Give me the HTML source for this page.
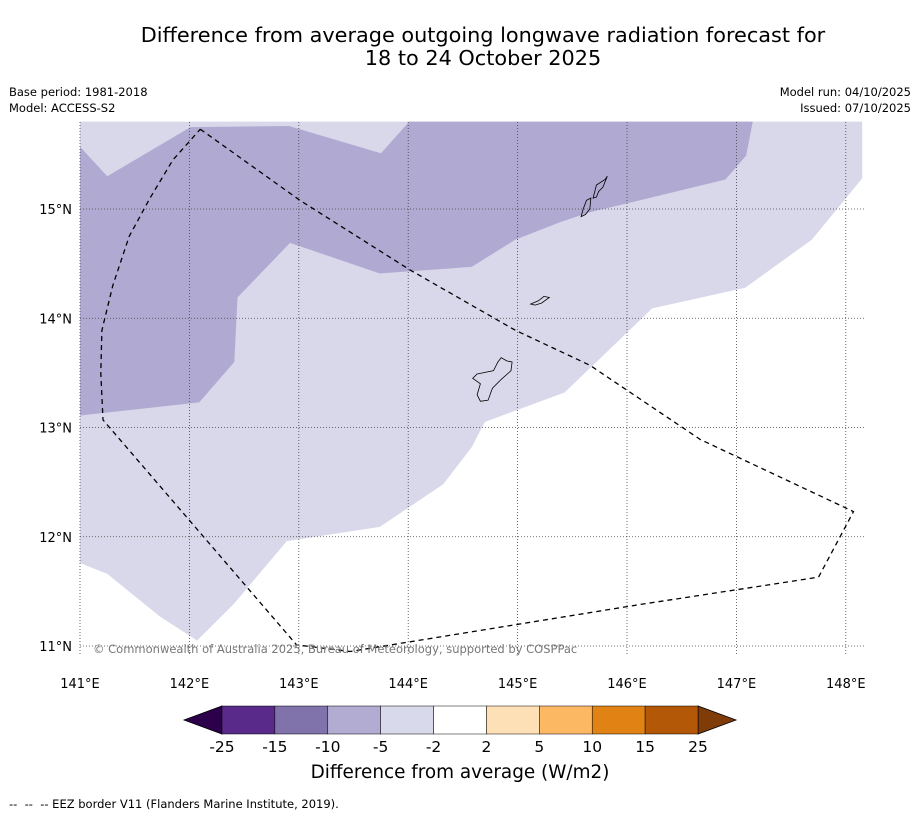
<!DOCTYPE html>
<html><head><meta charset="utf-8"><style>
body{margin:0;background:#fff;font-family:"DejaVu Sans","Liberation Sans",sans-serif}
svg{display:block}
text{font-family:"DejaVu Sans","Liberation Sans",sans-serif}
</style></head><body>
<svg id="chart" width="919" height="816" xmlns="http://www.w3.org/2000/svg">
<text x="483" y="42" text-anchor="middle" font-size="20.8">Difference from average outgoing longwave radiation forecast for</text>
<text x="483" y="65" text-anchor="middle" font-size="20.8">18 to 24 October 2025</text>
<text x="9" y="96" font-size="11.5">Base period: 1981-2018</text>
<text x="9" y="112" font-size="11.5">Model: ACCESS-S2</text>
<text x="911" y="96" font-size="11.5" text-anchor="end">Model run: 04/10/2025</text>
<text x="911" y="112" font-size="11.5" text-anchor="end">Issued: 07/10/2025</text>
<g id="map"></g>
<g id="cbar"></g>
<text x="460" y="778" text-anchor="middle" font-size="18.4">Difference from average (W/m2)</text>
<text x="9" y="808" font-size="11.5">-- &#160;-- &#160;-- EEZ border V11 (Flanders Marine Institute, 2019).</text>
</svg>
<script>
const lonTicks=[141,142,143,144,145,146,147,148];
const latTicks=[11,12,13,14,15];
const lightRegion=[[141,15.8],[148.15,15.8],[148.15,15.28],[147.69,14.72],[147.08,14.28],[146.23,14.09],[145.43,13.32],[144.7,13.05],[144.58,12.82],[144.32,12.48],[143.74,12.09],[142.89,11.96],[142.41,11.39],[142.07,11.05],[141.73,11.27],[141.25,11.66],[141,11.76]];
const darkRegion=[[141,15.57],[141.25,15.3],[142.01,15.75],[142.91,15.76],[143.75,15.51],[144.01,15.8],[147.15,15.8],[147.09,15.49],[146.9,15.27],[146.12,15.08],[145.66,14.97],[145.39,14.88],[144.98,14.72],[144.58,14.47],[143.74,14.41],[142.92,14.69],[142.44,14.19],[142.41,13.6],[142.09,13.23],[141,13.11]];
const eez=[[142.1,15.73],[143.01,15.08],[144.02,14.44],[144.98,13.89],[145.66,13.57],[146.67,12.89],[148.07,12.23],[147.75,11.63],[146.12,11.38],[143.47,10.95],[142.98,11.01],[141.21,13.07],[141.19,13.5],[141.2,13.89],[141.3,14.3],[141.45,14.75],[141.64,15.1],[141.85,15.45],[142.1,15.73]];
const guam=[[144.63,13.49],[144.78,13.52],[144.82,13.6],[144.85,13.64],[144.9,13.61],[144.95,13.6],[144.94,13.52],[144.85,13.44],[144.77,13.36],[144.73,13.25],[144.66,13.24],[144.63,13.3],[144.66,13.4],[144.59,13.45]];
const rota=[[145.12,14.13],[145.19,14.16],[145.24,14.2],[145.29,14.19],[145.22,14.14],[145.16,14.12]];
const tinian=[[145.58,14.93],[145.6,15.0],[145.63,15.08],[145.67,15.1],[145.66,15.0],[145.62,14.95]];
const saipan=[[145.69,15.1],[145.72,15.22],[145.8,15.27],[145.82,15.3],[145.78,15.2],[145.74,15.16],[145.72,15.11]];
const cbLabels=["-25","-15","-10","-5","-2","2","5","10","15","25"];
const cbColors=["#5a2a8a","#8073ac","#b2abd2","#d8daeb","#ffffff","#fee0b6","#fdb863","#e08214","#b35806"];
const NS="http://www.w3.org/2000/svg";
const X=lon=>80+(lon-141)*109.4;
const Y=lat=>209-(lat-15)*109.25;
function mk(tag,attrs,parent){const e=document.createElementNS(NS,tag);for(const k in attrs)e.setAttribute(k,attrs[k]);parent.appendChild(e);return e;}
const pts=a=>a.map(p=>X(p[0]).toFixed(1)+","+Y(p[1]).toFixed(1)).join(" ");
const map=document.getElementById('map');
let e=mk('polygon',{points:pts(lightRegion),fill:'#d8d8ea'},map);


e=mk('polygon',{points:pts(darkRegion),fill:'#b0aad2'},map);


lonTicks.forEach(l=>{
 const g=mk('line',{x1:X(l),x2:X(l),y1:122,y2:656,stroke:'#444','stroke-width':0.8,'stroke-dasharray':'1,2'},map);
 
 
 const t=mk('text',{x:X(l),y:688,'text-anchor':'middle','font-size':13},map);t.textContent=l+"°E";
 
 
});
latTicks.forEach(l=>{
 const g=mk('line',{x1:80,x2:866,y1:Y(l),y2:Y(l),stroke:'#444','stroke-width':0.8,'stroke-dasharray':'1,2'},map);
 
 
 const t=mk('text',{x:72,y:Y(l)+5,'text-anchor':'end','font-size':13},map);t.textContent=l+"°N";
 
 
});
[['guam',guam],['rota',rota],['tinian',tinian],['saipan',saipan]].forEach(([n,a])=>{
 const p=mk('polygon',{points:pts(a),fill:'none',stroke:'#000','stroke-width':0.8},map);
 
 
});
e=mk('polyline',{points:pts(eez),fill:'none',stroke:'#000','stroke-width':1.3,'stroke-dasharray':'5,4'},map);


e=mk('text',{x:93,y:653,'font-size':11.5,fill:'#777'},map);
e.textContent="© Commonwealth of Australia 2025, Bureau of Meteorology, supported by COSPPac";


const cb=document.getElementById('cbar');
const cx0=222,cw=(698-222)/cbColors.length,cy=706,ch=28;
e=mk('polygon',{points:`${cx0},${cy} ${cx0},${cy+ch} 184,${cy+ch/2}`,fill:'#2d004b',stroke:'#000','stroke-width':0.8},cb);


e=mk('polygon',{points:`698,${cy} 698,${cy+ch} 736,${cy+ch/2}`,fill:'#7f3b08',stroke:'#000','stroke-width':0.8},cb);


cbColors.forEach((c,i)=>{
 const r=mk('rect',{x:cx0+i*cw,y:cy,width:cw,height:ch,fill:c,stroke:'#000','stroke-width':0.5},cb);
 
 
});
cbLabels.forEach((s,i)=>{
 const t=mk('text',{x:cx0+i*cw,y:752,'text-anchor':'middle','font-size':15.5},cb);t.textContent=s;
 
 
});
</script>
</body></html>
